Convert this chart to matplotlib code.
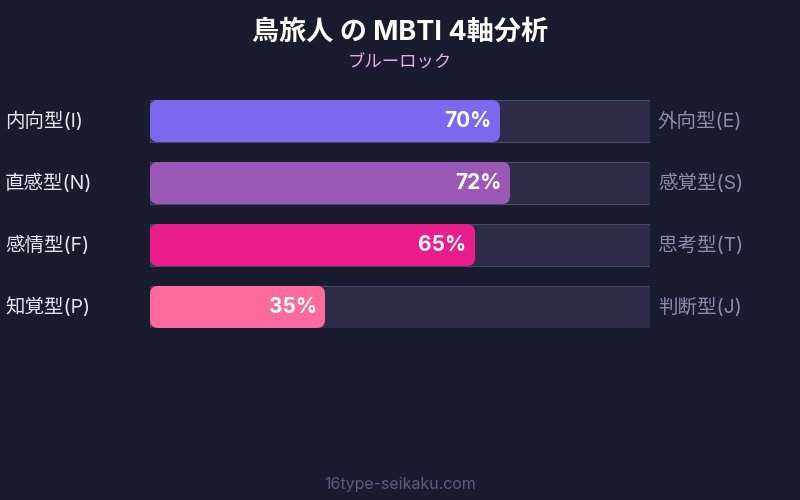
import matplotlib
matplotlib.use("Agg")
import matplotlib.pyplot as plt
from matplotlib.patches import FancyBboxPatch, Rectangle

plt.rcParams['font.family'] = ['Inter', 'Noto Sans CJK JP', 'DejaVu Sans']

title = '鳥旅人 の MBTI 4軸分析'
subtitle = 'ブルーロック'
footer = '16type-seikaku.com'

left_labels = ['内向型(I)', '直感型(N)', '感情型(F)', '知覚型(P)']
right_labels = ['外向型(E)', '感覚型(S)', '思考型(T)', '判断型(J)']
values = [70, 72, 65, 35]
colors = ['#7b68ee', '#9b59b6', '#e91e8c', '#ff6b9d']

bg = '#1a1b2e'
track = '#2d2b48'

fig = plt.figure(figsize=(8, 5), dpi=100, facecolor=bg)

# axes covering the track area: x 150..650 px, y 100..328 px
ax = fig.add_axes([150 / 800, 1 - 328 / 500, 500 / 800, 228 / 500])
ax.set_facecolor('none')
half = 21 / 62
ax.set_xlim(0, 100)
ax.set_ylim(len(values) - 1 + half, -half)
ax.axis('off')

px_x = 500 / 100   # px per x unit
px_y = 62          # px per y unit
h = 42 / 62
r = 8 / px_x

for i, (v, c) in enumerate(zip(values, colors)):
    ax.add_patch(Rectangle((0, i - h / 2), 100, h, facecolor=track,
                           edgecolor='#4a4868', linewidth=0.8, zorder=1))
    ax.add_patch(FancyBboxPatch((0, i - h / 2), v, h,
                                boxstyle=f'round,pad=0,rounding_size={r}',
                                mutation_aspect=px_x / px_y,
                                facecolor=c, edgecolor='none', zorder=2))
    ax.text(v - 1.7, i, f'{v}%', color='white', fontsize=15, fontweight='bold',
            ha='right', va='center', zorder=3)
    ax.text(-29, i, left_labels[i], color='#e6e6ee', fontsize=14,
            ha='left', va='center', clip_on=False)
    ax.text(101.6, i, right_labels[i], color='#8c8ca6', fontsize=14,
            ha='left', va='center', clip_on=False)

fig.text(0.5, 1 - 33 / 500, title, color='white', fontsize=19.5,
         fontweight='bold', ha='center', va='center')
fig.text(0.5, 1 - 63 / 500, subtitle, color='#e0b0e6', fontsize=12.5,
         ha='center', va='center')
fig.text(0.5, 1 - 484 / 500, footer, color='#5c5c7a', fontsize=11.5,
         ha='center', va='center')

fig.savefig('out.png', dpi=100, facecolor=bg)
